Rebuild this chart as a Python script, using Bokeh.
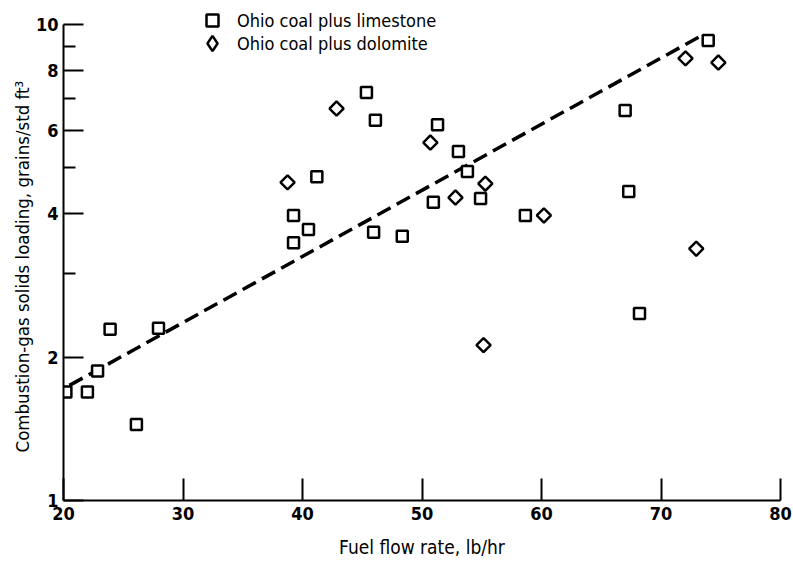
from bokeh.plotting import figure
from bokeh.models import FixedTicker, PrintfTickFormatter, Legend, LegendItem, Range1d, Title
from bokeh.embed import file_html
from bokeh.resources import INLINE

# Ohio coal plus limestone (squares)
limestone_x = [20.2, 22.0, 22.85, 23.9, 27.95, 26.1, 39.25, 40.5, 39.25, 41.2,
               45.35, 46.1, 45.95, 48.35, 51.3, 53.05, 53.8, 54.9, 50.95, 58.65,
               67.0, 67.3, 68.2, 73.95]
limestone_y = [1.69, 1.69, 1.87, 2.29, 2.30, 1.445, 3.97, 3.71, 3.48, 4.79,
               7.20, 6.29, 3.66, 3.59, 6.16, 5.41, 4.91, 4.31, 4.23, 3.97,
               6.60, 4.46, 2.47, 9.25]

# Ohio coal plus dolomite (diamonds)
dolomite_x = [38.75, 42.85, 50.7, 52.8, 55.3, 55.15, 60.2, 72.05, 74.8, 72.95]
dolomite_y = [4.66, 6.66, 5.65, 4.33, 4.63, 2.12, 3.97, 8.49, 8.32, 3.38]

# Fitted trend line (dashed)
fit_x = [20.5, 73.4]
fit_y = [1.745, 9.48]

x_ticks = [20, 30, 40, 50, 60, 70, 80]
y_ticks = [1, 2, 4, 6, 8, 10]
y_minor_ticks = [3, 5, 7, 9]

FONT = "DejaVu Sans Condensed"
INK = "black"

# frame reaches the top of the canvas (room for the key); the y axis itself stops at 10
Y_TOP = 10 ** (500 / 476)

p = figure(frame_width=717, frame_height=500,
           x_range=Range1d(20, 80), y_range=Range1d(1, Y_TOP),
           y_axis_type="log",
           output_backend="svg", toolbar_location=None,
           min_border_left=63, min_border_right=13, min_border_top=0, min_border_bottom=10)

p.outline_line_color = None
p.xgrid.visible = False
p.ygrid.visible = False

fit = p.line(fit_x, fit_y, line_color=INK, line_width=3.5, line_dash="15 7")

sq = p.scatter(limestone_x, limestone_y, marker="square", size=11,
               line_color=INK, line_width=2.5, fill_color="white")
# legend key for the diamond symbol (legend ignores marker angle); hidden under the data marks
dm_key = p.scatter(dolomite_x, dolomite_y, marker="diamond", size=0,
                   line_color=INK, line_width=2.5, fill_color="white")
dm = p.scatter(dolomite_x, dolomite_y, marker="square", size=10, angle=0.785398,
               line_color=INK, line_width=2.5, fill_color="white")

xa = p.xaxis[0]
xa.ticker = FixedTicker(ticks=x_ticks)
xa.major_tick_in = 22
xa.major_tick_out = 0
xa.minor_tick_in = 0
xa.minor_tick_out = 0
xa.axis_line_width = 2
xa.axis_line_color = INK
xa.major_tick_line_width = 2
xa.major_tick_line_color = INK
xa.major_label_standoff = 6
xa.major_label_text_font = FONT
xa.major_label_text_font_style = "bold"
xa.major_label_text_font_size = "18px"
xa.major_label_text_color = INK
xa.axis_label = "Fuel flow rate, lb/hr"
xa.axis_label_text_font = FONT
xa.axis_label_text_font_style = "normal"
xa.axis_label_text_font_size = "19px"
xa.axis_label_text_color = INK
xa.axis_label_standoff = 13

ya = p.yaxis[0]
ya.bounds = (1, 10)
ya.ticker = FixedTicker(ticks=y_ticks, minor_ticks=y_minor_ticks)
ya.formatter = PrintfTickFormatter(format="%d")
ya.major_tick_in = 20
ya.major_tick_out = 0
ya.minor_tick_in = 12
ya.minor_tick_out = 0
ya.axis_line_width = 2
ya.axis_line_color = INK
ya.major_tick_line_width = 2
ya.major_tick_line_color = INK
ya.minor_tick_line_width = 2
ya.minor_tick_line_color = INK
ya.major_label_standoff = 5
ya.major_label_text_font = FONT
ya.major_label_text_font_style = "bold"
ya.major_label_text_font_size = "18px"
ya.major_label_text_color = INK

y_title = Title(text="Combustion-gas solids loading, grains/std ft³", align="left",
                offset=48, standoff=0, text_font=FONT, text_font_style="normal",
                text_font_size="18.5px", text_color=INK)
p.add_layout(y_title, "left")


def make_legend(label, renderer, loc, box, standoff):
    lg = Legend(items=[LegendItem(label=label, renderers=[renderer])], location=loc)
    lg.border_line_color = None
    lg.background_fill_alpha = 0
    lg.padding = 0
    lg.margin = 0
    lg.glyph_width = box
    lg.glyph_height = box
    lg.label_height = box
    lg.label_standoff = standoff
    lg.label_text_font = FONT
    lg.label_text_font_size = "18px"
    lg.label_text_color = INK
    return lg


p.add_layout(make_legend("Ohio coal plus limestone", sq, (134, 465), 30, 10))
p.add_layout(make_legend("Ohio coal plus dolomite", dm_key, (130, 438), 38, 6))

open("out.html", "w").write(file_html(p, INLINE))
